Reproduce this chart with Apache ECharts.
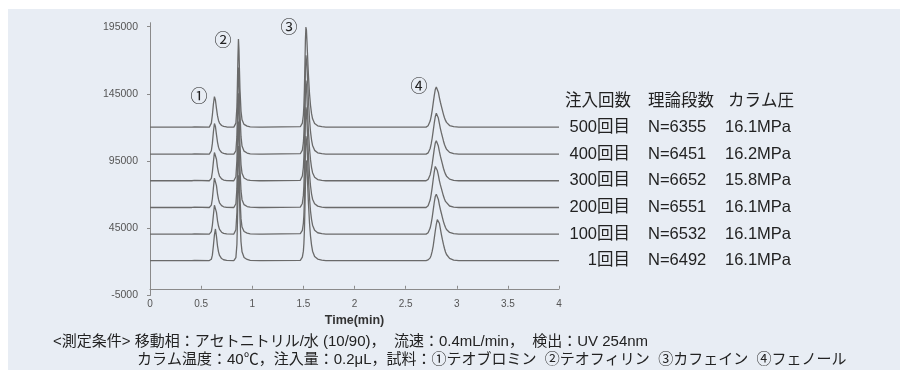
<!DOCTYPE html>
<html><head><meta charset="utf-8">
<script src="https://cdn.jsdelivr.net/npm/echarts@6/dist/echarts.min.js"></script>
<style>html,body{margin:0;padding:0;background:#fff}#c{width:908px;height:376px}</style>
</head><body><div id="c"></div>
<script>
// Retention time (min) sample points
const times = [0, 0.41, 0.425, 0.435, 0.45,
  0.58, 0.59, 0.60, 0.61, 0.62, 0.63, 0.64, 0.65, 0.66, 0.67, 0.68, 0.70, 0.72, 0.75,
  0.82, 0.83, 0.84, 0.85, 0.855, 0.86, 0.865, 0.87, 0.875, 0.88, 0.89, 0.90, 0.92, 0.95, 0.98,
  1.07, 1.085, 1.10,
  1.47, 1.48, 1.49, 1.50, 1.505, 1.51, 1.515, 1.52, 1.525, 1.53, 1.535, 1.54, 1.545, 1.55, 1.56, 1.57, 1.58, 1.59, 1.61, 1.64, 1.68, 1.72,
  2.70, 2.72, 2.74, 2.75, 2.76, 2.77, 2.78, 2.79, 2.80, 2.81, 2.82, 2.83, 2.84, 2.85, 2.86, 2.87, 2.88, 2.89, 2.90, 2.93, 2.97, 3.02,
  4.00];

// Detector signal (offset traces as drawn)
const run500 = [120300, 120300, 121100, 120500, 120300,
  120300, 120800, 123300, 129300, 137300, 143000, 140300, 134300, 128800, 125300, 123300, 121500, 120800, 120400,
  120300, 120800, 123300, 135300, 152300, 172300, 185800, 178300, 162300, 148300, 132300, 125800, 122300, 121000, 120500,
  120300, 120800, 120300,
  120600, 121300, 123300, 129300, 136300, 148300, 166300, 185300, 194800, 192300, 184300, 175300, 166300, 158300, 145300, 136300, 130300, 126500, 123000, 121300, 120600, 120300,
  120300, 121300, 124800, 128300, 132800, 138300, 143800, 148300, 150100, 149100, 146300, 142300, 138800, 135800, 132800, 129800, 127300, 125300, 123800, 121500, 120600, 120300,
  120300];
const run400 = [100200, 100200, 101000, 100400, 100200,
  100200, 100600, 102700, 108200, 116700, 123000, 120700, 114700, 109200, 105400, 103300, 101400, 100700, 100300,
  100200, 100600, 102700, 113200, 130200, 150200, 164700, 159200, 144200, 130200, 113200, 106200, 102400, 101000, 100400,
  100200, 100700, 100200,
  100500, 101200, 103200, 108700, 115200, 126200, 143200, 162200, 173700, 173200, 166200, 157200, 148200, 139200, 126200, 116700, 110700, 106700, 103000, 101200, 100500, 100200,
  100200, 101100, 104400, 107800, 112200, 117700, 123200, 128000, 130600, 129800, 127000, 123000, 119200, 116000, 113000, 110000, 107400, 105400, 103800, 101500, 100500, 100200,
  100200];
const run300 = [80400, 80400, 81200, 80600, 80400,
  80400, 80700, 82200, 86900, 94400, 101400, 101900, 96400, 90400, 86400, 83900, 81800, 80900, 80500,
  80400, 80900, 83400, 95400, 113400, 133400, 145400, 137400, 121400, 107400, 92400, 85900, 82400, 81100, 80600,
  80400, 80900, 80400,
  80700, 81600, 83900, 90400, 97900, 110400, 128400, 146400, 154900, 151400, 142400, 133400, 124400, 116400, 104400, 95900, 90200, 86400, 83000, 81300, 80700, 80400,
  80400, 81400, 84900, 88400, 92900, 98400, 103900, 108400, 110100, 109000, 106200, 102200, 98700, 95700, 92700, 89700, 87300, 85300, 83800, 81600, 80700, 80400,
  80400];
const run200 = [60500, 60500, 61300, 60700, 60500,
  60500, 60800, 62300, 67000, 75000, 82300, 82500, 76800, 70700, 66500, 64000, 61900, 61000, 60600,
  60500, 60900, 63300, 74500, 91500, 111500, 124500, 119000, 103500, 89500, 73000, 66300, 62600, 61200, 60700,
  60500, 61000, 60500,
  60800, 61500, 63500, 69500, 76500, 88500, 106500, 125500, 135000, 132500, 124500, 115500, 106500, 98500, 85500, 76500, 70500, 66700, 63200, 61500, 60800, 60500,
  60500, 61800, 66000, 70300, 75500, 81500, 87000, 91000, 90500, 88000, 84500, 80500, 77300, 74500, 71700, 69000, 66800, 65000, 63700, 61600, 60800, 60500,
  60500];
const run100 = [40700, 40700, 41500, 40900, 40700,
  40700, 41000, 42500, 47200, 54700, 62200, 62500, 56900, 50800, 46700, 44200, 42100, 41200, 40800,
  40700, 41200, 43900, 56700, 74700, 94700, 106200, 97700, 81700, 67700, 52200, 45900, 42600, 41400, 40900,
  40700, 41200, 40700,
  41000, 41700, 43500, 48700, 54700, 65700, 82700, 101700, 113700, 114700, 107700, 98700, 89700, 80700, 67700, 57700, 51500, 47300, 43500, 41700, 41000, 40700,
  40700, 41700, 45200, 48700, 53200, 58700, 64200, 68700, 70400, 69300, 66500, 62500, 59000, 56000, 53000, 50000, 47600, 45600, 44100, 41900, 41000, 40700,
  40700];
const run1 = [21000, 21000, 21800, 21200, 21000,
  21000, 21200, 22000, 25000, 32000, 40000, 44500, 39000, 32000, 27500, 24800, 22500, 21600, 21100,
  21000, 21300, 23200, 33000, 49000, 69000, 84500, 82000, 68000, 53000, 35000, 27500, 23300, 21800, 21200,
  21000, 21500, 21000,
  21200, 21800, 23500, 28000, 33500, 43000, 59000, 78000, 92000, 95500, 90000, 81000, 72000, 63000, 49000, 39000, 32500, 28000, 24000, 22100, 21300, 21000,
  21000, 21500, 23000, 25000, 28000, 32000, 37500, 43000, 48000, 51500, 51800, 48800, 44500, 40300, 36500, 33000, 30000, 27400, 25500, 22600, 21400, 21000,
  21000];

const runs = [run500, run400, run300, run200, run100, run1];
const runLabels = ['500回目', '400回目', '300回目', '200回目', '100回目', '1回目'];
const plateCounts = ['N=6355', 'N=6451', 'N=6652', 'N=6551', 'N=6532', 'N=6492'];
const pressures = ['16.1MPa', '16.2MPa', '15.8MPa', '16.1MPa', '16.1MPa', '16.1MPa'];
const headers = ['注入回数', '理論段数', 'カラム圧'];
const yTickValues = [-5000, 45000, 95000, 145000, 195000];
const peakLabels = ['①', '②', '③', '④'];
const noteLines = [
  '<測定条件> 移動相：アセトニトリル/水 (10/90)，  流速：0.4mL/min，  検出：UV 254nm',
  'カラム温度：40℃，注入量：0.2μL，試料：①テオブロミン  ②テオフィリン  ③カフェイン  ④フェノール'
];

const JP = "'Liberation Sans', 'Noto Sans CJK JP', sans-serif";
const chart = echarts.init(document.getElementById('c'), null, {renderer: 'canvas'});

chart.setOption({
  animation: false,
  backgroundColor: '#ffffff',
  grid: {left: 150, right: 349, top: 22.7, bottom: 80.5},
  xAxis: {
    type: 'value', min: 0, max: 4, interval: 0.5,
    name: 'Time(min)', nameLocation: 'middle', nameGap: 12,
    nameTextStyle: {fontSize: 12.5, fontWeight: 'bold', color: '#333', fontFamily: 'Liberation Sans'},
    axisLine: {show: true, onZero: true, lineStyle: {color: '#8a8a8a', width: 1}},
    axisTick: {show: true, inside: true, length: 3, lineStyle: {color: '#8a8a8a'}},
    axisLabel: {fontSize: 10, color: '#555', margin: 4, fontFamily: 'Liberation Sans'},
    splitLine: {show: false}
  },
  yAxis: {
    type: 'value', min: -5000, max: 198000,
    axisLine: {show: true, lineStyle: {color: '#8a8a8a', width: 1}},
    axisTick: {show: true, length: 3, customValues: yTickValues, lineStyle: {color: '#8a8a8a'}},
    axisLabel: {fontSize: 10.5, color: '#555', margin: 12, customValues: yTickValues, fontFamily: 'Liberation Sans',
      formatter: v => String(v)},
    splitLine: {show: false}
  },
  series: runs.map((r, k) => ({
    type: 'line', name: runLabels[k], showSymbol: false, symbol: 'none',
    data: times.map((t, i) => [t, r[i]]),
    lineStyle: {color: '#6a6a6a', width: 1.3},
    z: 3
  }))
});

const g = [];
g.push({type: 'rect', z: -10, silent: true, shape: {x: 8, y: 9, width: 892, height: 361}, style: {fill: '#e8edf4'}});
// legend table
const hdrX = [565, 648, 728];
headers.forEach((h, i) => g.push({type: 'text', z: 10, style: {text: h, x: hdrX[i], y: 101, fontSize: 16.5, fontFamily: JP, fill: '#222', align: 'left', verticalAlign: 'middle'}}));
runs.forEach((r, k) => {
  const y = chart.convertToPixel({yAxisIndex: 0}, r[r.length - 1]);
  g.push({type: 'text', z: 10, style: {text: runLabels[k], x: 630, y: y, fontSize: 16.5, fontFamily: JP, fill: '#222', align: 'right', verticalAlign: 'middle'}});
  g.push({type: 'text', z: 10, style: {text: plateCounts[k], x: 648, y: y, fontSize: 16.5, fontFamily: JP, fill: '#222', align: 'left', verticalAlign: 'middle'}});
  g.push({type: 'text', z: 10, style: {text: pressures[k], x: 725, y: y, fontSize: 16.5, fontFamily: JP, fill: '#222', align: 'left', verticalAlign: 'middle'}});
});
// peak markers
const peakPos = [[199, 96], [223, 40], [289, 27], [419, 86]];
peakLabels.forEach((p, i) => g.push({type: 'text', z: 10, style: {text: p, x: peakPos[i][0], y: peakPos[i][1], fontSize: 17, fontFamily: "'Noto Sans CJK JP'", fill: '#222', align: 'center', verticalAlign: 'middle'}}));
// notes
g.push({type: 'text', z: 10, style: {text: noteLines[0], x: 53, y: 342, fontSize: 15, fontFamily: JP, fill: '#222', align: 'left', verticalAlign: 'middle'}});
g.push({type: 'text', z: 10, style: {text: noteLines[1], x: 137, y: 360, fontSize: 15, fontFamily: JP, fill: '#222', align: 'left', verticalAlign: 'middle'}});
chart.setOption({graphic: g});
</script></body></html>
